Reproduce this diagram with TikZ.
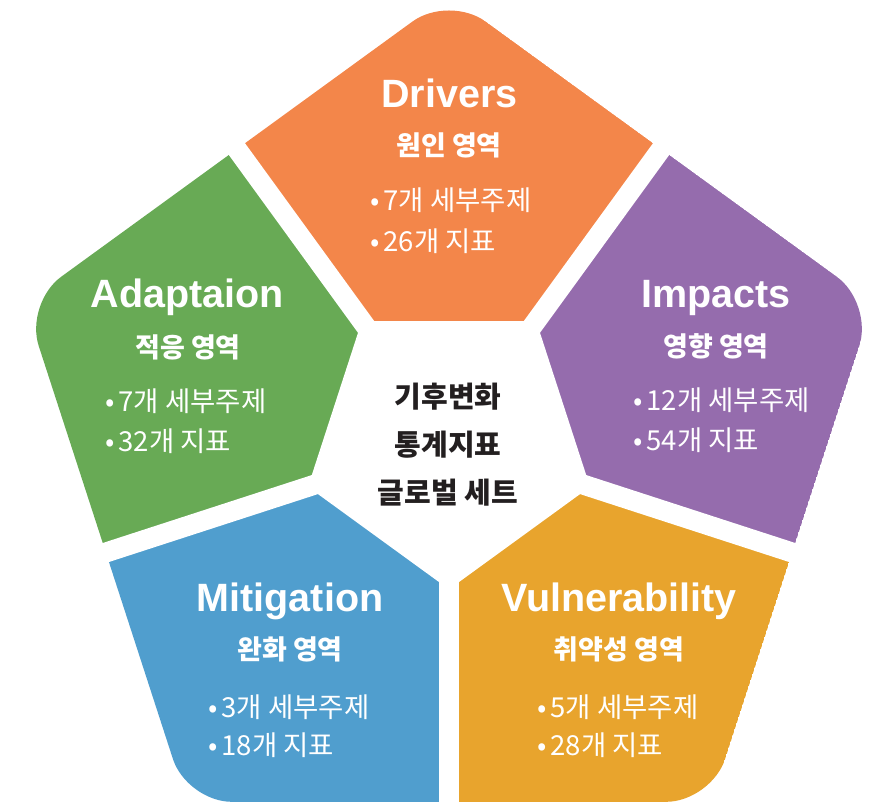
\documentclass[tikz,border=0pt]{standalone}
\usepackage{fontspec}
\setmainfont{Liberation Sans}
\newfontfamily\kr{Noto Sans CJK KR}
\usetikzlibrary{calc}
\definecolor{cOrange}{HTML}{F3864A}
\definecolor{cPurple}{HTML}{956CAD}
\definecolor{cGreen}{HTML}{68AA55}
\definecolor{cBlue}{HTML}{509ECE}
\definecolor{cYellow}{HTML}{E8A42D}
\definecolor{cText}{HTML}{231F20}
\newcommand\bul{•\hspace{4pt}}
\tikzset{
  title/.style={anchor=base, inner sep=0pt, text=white, font=\bfseries\fontsize{39.5}{40}\selectfont},
  subtitle/.style={anchor=center, inner sep=0pt, text=white, font=\kr\bfseries\fontsize{27}{27}\selectfont},
  item/.style={anchor=west, inner sep=0pt, text=white, font=\kr\fontsize{27.5}{27}\selectfont},
  strip/.style={white, line width=20pt},
  bigpent/.style={rounded corners=45pt},
}
\begin{document}
\begin{tikzpicture}[x=1pt,y=-1pt]
\fill[white] (0,0) rectangle (874,802);
\useasboundingbox (0,0) rectangle (874,802);
\coordinate (C) at (449,441);
\foreach \a/\n in {-90/0,-18/1,54/2,126/3,198/4}
  \coordinate (V\n) at ($(C)+(\a:446)$);
\foreach \a/\n in {-54/0,18/1,90/2,162/3,234/4}
  \coordinate (M\n) at ($(C)+(\a:360.8)$);
% segments
\foreach \col/\p/\v/\q in {cOrange/4/0/0, cPurple/0/1/1, cYellow/1/2/2, cBlue/2/3/3, cGreen/3/4/4}{
  \begin{scope}
    \clip (C) -- (M\p) -- (V\v) -- (M\q) -- cycle;
    \fill[\col, bigpent] (V0) -- (V1) -- (V2) -- (V3) -- (V4) -- cycle;
  \end{scope}
}
% white strips
\foreach \n in {0,...,4}
  \draw[strip] (C) -- ($(C)!1.1!(M\n)$);
% inner hole
\fill[white] ($(C)+(-54:148.3)$) -- ($(C)+(18:148.3)$) -- ($(C)+(90:148.3)$)
  -- ($(C)+(162:148.3)$) -- ($(C)+(234:148.3)$) -- cycle;
% Drivers
\node[title] (dT) at (449.5,108) {Drivers};
\node[subtitle] (dS) at (449,145) {원인 영역};
\node[item] (dA) at (370,200) {\bul 7개 세부주제};
\node[item] (dB) at (370,241) {\bul 26개 지표};
% Adaptation
\node[title] (aT) at (187.5,307) {Adaptaion};
\node[subtitle] (aS) at (188,347) {적응 영역};
\node[item] (aA) at (105,401) {\bul 7개 세부주제};
\node[item] (aB) at (105,441) {\bul 32개 지표};
% Impacts
\node[title] (iT) at (716,307) {Impacts};
\node[subtitle] (iS) at (716,346) {영향 영역};
\node[item] (iA) at (633,400) {\bul 12개 세부주제};
\node[item] (iB) at (633,440) {\bul 54개 지표};
% Mitigation
\node[title] (mT) at (290,611) {Mitigation};
\node[subtitle] (mS) at (290,649) {완화 영역};
\node[item] (mA) at (208,707) {\bul 3개 세부주제};
\node[item] (mB) at (208,745) {\bul 18개 지표};
% Vulnerability
\node[title] (vT) at (619,611) {Vulnerability};
\node[subtitle] (vS) at (619,649) {취약성 영역};
\node[item] (vA) at (537,707) {\bul 5개 세부주제};
\node[item] (vB) at (537,745) {\bul 28개 지표};
% centre
\node[inner sep=0pt, align=center, text=cText, font=\kr\bfseries\fontsize{29}{48}\selectfont] (ctr) at (448,445) {기후변화\\통계지표\\글로벌 세트};
\end{tikzpicture}
\end{document}
